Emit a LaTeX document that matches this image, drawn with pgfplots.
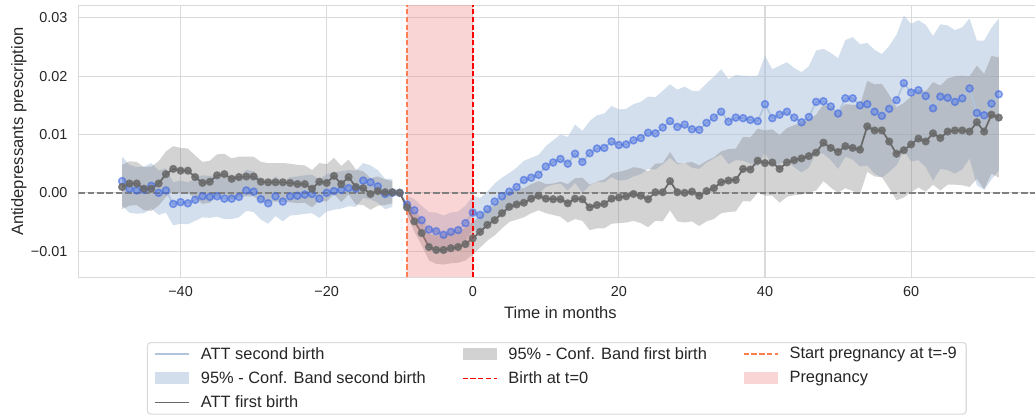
\documentclass[border=0pt]{standalone}
\usepackage{fontspec}
\setmainfont{Liberation Sans}
\usepackage{pgfplots}
\pgfplotsset{compat=1.18}
\usepgfplotslibrary{fillbetween}
\usepackage{pgfplotstable}

\definecolor{lsb}{RGB}{176,196,222}
\definecolor{royal}{RGB}{65,105,225}
\definecolor{dimg}{RGB}{105,105,105}
\definecolor{gridc}{RGB}{218,218,218}
\definecolor{lcoral}{RGB}{240,128,128}
\definecolor{mycoral}{RGB}{255,127,80}
\definecolor{txt}{RGB}{38,38,38}

\pgfplotsset{
  lineleg/.style={legend image code/.code={\draw[##1, rounded corners=0pt] (0pt,0pt) -- (25.5pt,0pt);}},
  arealeg/.style={legend image code/.code={\fill[##1, draw=none, rounded corners=0pt] (0pt,-4.5pt) rectangle (25.5pt,4.5pt);}},
}

% t, second birth ATT (b) and CI half-width (bh), first birth ATT (g) and CI half-width (gh)
\pgfplotstableread{
t b bh g gh
-48 0.0020 0.0042 0.0010 0.0038
-47 0.0007 0.0041 0.0016 0.0038
-46 0.0004 0.0040 0.0016 0.0037
-45 0.0005 0.0040 0.0007 0.0037
-44 0.0012 0.0039 0.0007 0.0038
-43 0.0000 0.0038 0.0016 0.0038
-42 0.0004 0.0038 0.0032 0.0039
-41 -0.0019 0.0037 0.0041 0.0039
-40 -0.0016 0.0037 0.0038 0.0039
-39 -0.0018 0.0036 0.0038 0.0038
-38 -0.0012 0.0036 0.0027 0.0037
-37 -0.0006 0.0036 0.0017 0.0036
-36 -0.0007 0.0036 0.0019 0.0036
-35 -0.0006 0.0035 0.0030 0.0036
-34 -0.0010 0.0035 0.0032 0.0035
-33 -0.0010 0.0035 0.0024 0.0035
-32 -0.0007 0.0035 0.0027 0.0035
-31 0.0004 0.0035 0.0028 0.0034
-30 0.0002 0.0035 0.0028 0.0034
-29 -0.0011 0.0035 0.0019 0.0034
-28 -0.0018 0.0035 0.0018 0.0033
-27 -0.0006 0.0034 0.0018 0.0033
-26 -0.0015 0.0034 0.0018 0.0033
-25 -0.0006 0.0033 0.0017 0.0033
-24 -0.0005 0.0033 0.0015 0.0033
-23 -0.0003 0.0033 0.0015 0.0032
-22 -0.0002 0.0033 0.0007 0.0032
-21 -0.0010 0.0033 0.0019 0.0032
-20 0.0000 0.0032 0.0017 0.0032
-19 0.0003 0.0032 0.0029 0.0031
-18 0.0005 0.0032 0.0015 0.0031
-17 0.0008 0.0031 0.0027 0.0030
-16 0.0007 0.0031 0.0010 0.0030
-15 0.0021 0.0030 0.0008 0.0029
-14 0.0018 0.0029 -0.0002 0.0027
-13 0.0011 0.0028 0.0003 0.0025
-12 -0.0002 0.0026 0.0001 0.0022
-11 0.0000 0.0024 0.0001 0.0019
-10 0.0000 0.0000 0.0000 0.0000
-9 -0.0020 0.0015 -0.0025 0.0013
-8 -0.0030 0.0019 -0.0049 0.0018
-7 -0.0047 0.0025 -0.0069 0.0021
-6 -0.0063 0.0030 -0.0093 0.0023
-5 -0.0066 0.0032 -0.0098 0.0024
-4 -0.0072 0.0033 -0.0098 0.0025
-3 -0.0067 0.0033 -0.0095 0.0026
-2 -0.0064 0.0032 -0.0093 0.0027
-1 -0.0052 0.0030 -0.0088 0.0028
0 -0.0034 0.0029 -0.0078 0.0028
1 -0.0038 0.0029 -0.0067 0.0027
2 -0.0028 0.0030 -0.0055 0.0027
3 -0.0015 0.0031 -0.0047 0.0026
4 -0.0006 0.0032 -0.0035 0.0026
5 0.0002 0.0032 -0.0024 0.0026
6 0.0010 0.0033 -0.0020 0.0026
7 0.0022 0.0033 -0.0017 0.0025
8 0.0026 0.0034 -0.0010 0.0025
9 0.0031 0.0034 -0.0005 0.0025
10 0.0045 0.0035 -0.0010 0.0025
11 0.0052 0.0038 -0.0011 0.0027
12 0.0058 0.0042 -0.0011 0.0030
13 0.0050 0.0046 -0.0018 0.0033
14 0.0067 0.0050 -0.0010 0.0035
15 0.0053 0.0053 -0.0011 0.0037
16 0.0068 0.0055 -0.0025 0.0039
17 0.0076 0.0057 -0.0021 0.0040
18 0.0077 0.0059 -0.0019 0.0042
19 0.0088 0.0061 -0.0010 0.0043
20 0.0082 0.0061 -0.0008 0.0044
21 0.0083 0.0061 -0.0006 0.0045
22 0.0090 0.0062 -0.0002 0.0046
23 0.0094 0.0062 -0.0005 0.0047
24 0.0103 0.0062 -0.0011 0.0048
25 0.0102 0.0062 0.0001 0.0049
26 0.0112 0.0063 0.0001 0.0050
27 0.0123 0.0063 0.0020 0.0050
28 0.0113 0.0064 0.0001 0.0050
29 0.0117 0.0065 0.0000 0.0051
30 0.0109 0.0066 0.0002 0.0051
31 0.0108 0.0067 -0.0005 0.0052
32 0.0120 0.0068 0.0003 0.0052
33 0.0129 0.0070 0.0008 0.0053
34 0.0139 0.0073 0.0018 0.0053
35 0.0122 0.0073 0.0021 0.0054
36 0.0129 0.0073 0.0022 0.0054
37 0.0128 0.0073 0.0041 0.0055
38 0.0125 0.0075 0.0040 0.0055
39 0.0123 0.0078 0.0055 0.0055
40 0.0152 0.0083 0.0051 0.0056
41 0.0128 0.0084 0.0052 0.0057
42 0.0134 0.0084 0.0041 0.0058
43 0.0139 0.0085 0.0052 0.0059
44 0.0129 0.0085 0.0056 0.0060
45 0.0121 0.0086 0.0059 0.0062
46 0.0130 0.0087 0.0063 0.0063
47 0.0156 0.0088 0.0069 0.0065
48 0.0157 0.0090 0.0086 0.0066
49 0.0148 0.0092 0.0077 0.0068
50 0.0136 0.0095 0.0070 0.0070
51 0.0162 0.0100 0.0080 0.0072
52 0.0162 0.0105 0.0077 0.0074
53 0.0150 0.0105 0.0074 0.0076
54 0.0152 0.0105 0.0114 0.0078
55 0.0139 0.0106 0.0107 0.0079
56 0.0132 0.0106 0.0107 0.0080
57 0.0144 0.0108 0.0088 0.0080
58 0.0159 0.0112 0.0067 0.0080
59 0.0188 0.0116 0.0073 0.0081
60 0.0172 0.0118 0.0083 0.0082
61 0.0176 0.0120 0.0093 0.0084
62 0.0166 0.0122 0.0088 0.0086
63 0.0145 0.0124 0.0102 0.0088
64 0.0165 0.0124 0.0094 0.0090
65 0.0163 0.0124 0.0105 0.0091
66 0.0156 0.0123 0.0107 0.0093
67 0.0162 0.0122 0.0107 0.0094
68 0.0179 0.0120 0.0105 0.0095
69 0.0137 0.0124 0.0121 0.0097
70 0.0133 0.0128 0.0105 0.0099
71 0.0153 0.0130 0.0134 0.0101
72 0.0169 0.0130 0.0129 0.0103
}\data

\begin{document}
\begin{tikzpicture}
\begin{axis}[
  at={(0pt,0pt)}, anchor=south west,
  scale only axis, width=723.2pt, height=204.2pt,
  xmin=-54, xmax=78, ymin=-0.0145, ymax=0.0322,
  axis line style={gridc, line width=0.8pt},
  grid=major, grid style={gridc, line width=0.8pt},
  major tick length=0pt,
  xtick={-40,-20,0,20,40,60},
  xticklabels={−40,−20,0,20,40,60},
  ytick={-0.01,0,0.01,0.02,0.03},
  yticklabels={−0.01,0.00,0.01,0.02,0.03},
  scaled y ticks=false,
  tick label style={font=\fontsize{10.8}{12.5}\selectfont, text=txt},
  xticklabel style={anchor=north, yshift=-3.6pt},
  yticklabel style={anchor=east, xshift=-4.6pt},
  xlabel={Time in months},
  ylabel={Antidepressants prescription},
  label style={font=\fontsize{12.4}{14.5}\selectfont, text=txt},
  xlabel style={at={(axis description cs:0.5,0)}, anchor=center, yshift=-26.5pt},
  ylabel style={at={(axis description cs:-0.0615,0.535)}, anchor=center},
  legend columns=3,
  legend cell align=left,
  legend style={at={(axis description cs:0.0712,-0.2375)}, anchor=north west,
    draw=gridc, line width=0.8pt, rounded corners=2.5pt, fill=white,
    inner xsep=5pt, inner ysep=1.5pt, row sep=3.7pt,
    font=\fontsize{12.3}{14}\selectfont, text=txt,
    /tikz/every odd column/.append style={column sep=6.3pt},
    /tikz/every even column/.append style={column sep=25pt}},
]
% confidence bands
\addplot[name path=bU, draw=none, forget plot] table[x=t, y expr=\thisrow{b}+\thisrow{bh}] {\data};
\addplot[name path=bL, draw=none, forget plot] table[x=t, y expr=\thisrow{b}-\thisrow{bh}] {\data};
\addplot[name path=gU, draw=none, forget plot] table[x=t, y expr=\thisrow{g}+\thisrow{gh}] {\data};
\addplot[name path=gL, draw=none, forget plot] table[x=t, y expr=\thisrow{g}-\thisrow{gh}] {\data};
\addplot[fill=lsb, fill opacity=0.55, draw=none, forget plot] fill between[of=bU and bL, soft clip={domain=-48:-11}];
\addplot[fill=lsb, fill opacity=0.55, draw=none, forget plot] fill between[of=bU and bL, soft clip={domain=-9:72}];
\addplot[fill=gray, fill opacity=0.35, draw=none, forget plot] fill between[of=gU and gL, soft clip={domain=-48:-11}];
\addplot[fill=gray, fill opacity=0.35, draw=none, forget plot] fill between[of=gU and gL, soft clip={domain=-9:72}];
% ATT lines
\addplot[color=lsb, line width=1.2pt, mark=*, mark size=2.6pt,
  mark options={draw=royal, fill=royal, draw opacity=0.6, fill opacity=0.42}, forget plot]
  table[x=t, y=b] {\data};
\addplot[color=dimg, line width=1.3pt, mark=*, mark size=2.4pt,
  mark options={draw=dimg, fill=dimg, opacity=0.8}, forget plot]
  table[x=t, y=g] {\data};
% pregnancy span
\addplot[fill=lcoral, fill opacity=0.33, draw=none, forget plot]
  coordinates {(-9,-0.0145) (0,-0.0145) (0,0.0322) (-9,0.0322)} -- cycle;
\addplot[color=mycoral, line width=1.2pt, dash pattern=on 4pt off 1.8pt, forget plot]
  coordinates {(-9,-0.0145) (-9,0.0322)};
\addplot[color=red, line width=1.2pt, dash pattern=on 4pt off 1.8pt, forget plot]
  coordinates {(0,-0.0145) (0,0.0322)};
\addplot[color=gray, line width=1.3pt, dash pattern=on 5pt off 2pt, forget plot]
  coordinates {(-54,0) (78,0)};
% legend (row-major order matching the column layout of the reference)
\addlegendimage{lineleg, color=lsb, line width=1.2pt}
\addlegendentry{ATT second birth}
\addlegendimage{arealeg, fill=gray, fill opacity=0.35}
\addlegendentry{95\% - Conf. Band first birth}
\addlegendimage{lineleg, color=mycoral, line width=1.2pt, dash pattern=on 4pt off 1.8pt}
\addlegendentry{Start pregnancy at t=-9}
\addlegendimage{arealeg, fill=lsb, fill opacity=0.55}
\addlegendentry{95\% - Conf. Band second birth}
\addlegendimage{lineleg, color=red, line width=1.2pt, dash pattern=on 4pt off 1.8pt}
\addlegendentry{Birth at t=0}
\addlegendimage{arealeg, fill=lcoral, fill opacity=0.33}
\addlegendentry{Pregnancy}
\addlegendimage{lineleg, color=dimg, line width=1.3pt}
\addlegendentry{ATT first birth}
\end{axis}
\pgfresetboundingbox
\useasboundingbox (-58.7pt,-105.5pt) rectangle (717.5pt,208pt);
\end{tikzpicture}
\end{document}
